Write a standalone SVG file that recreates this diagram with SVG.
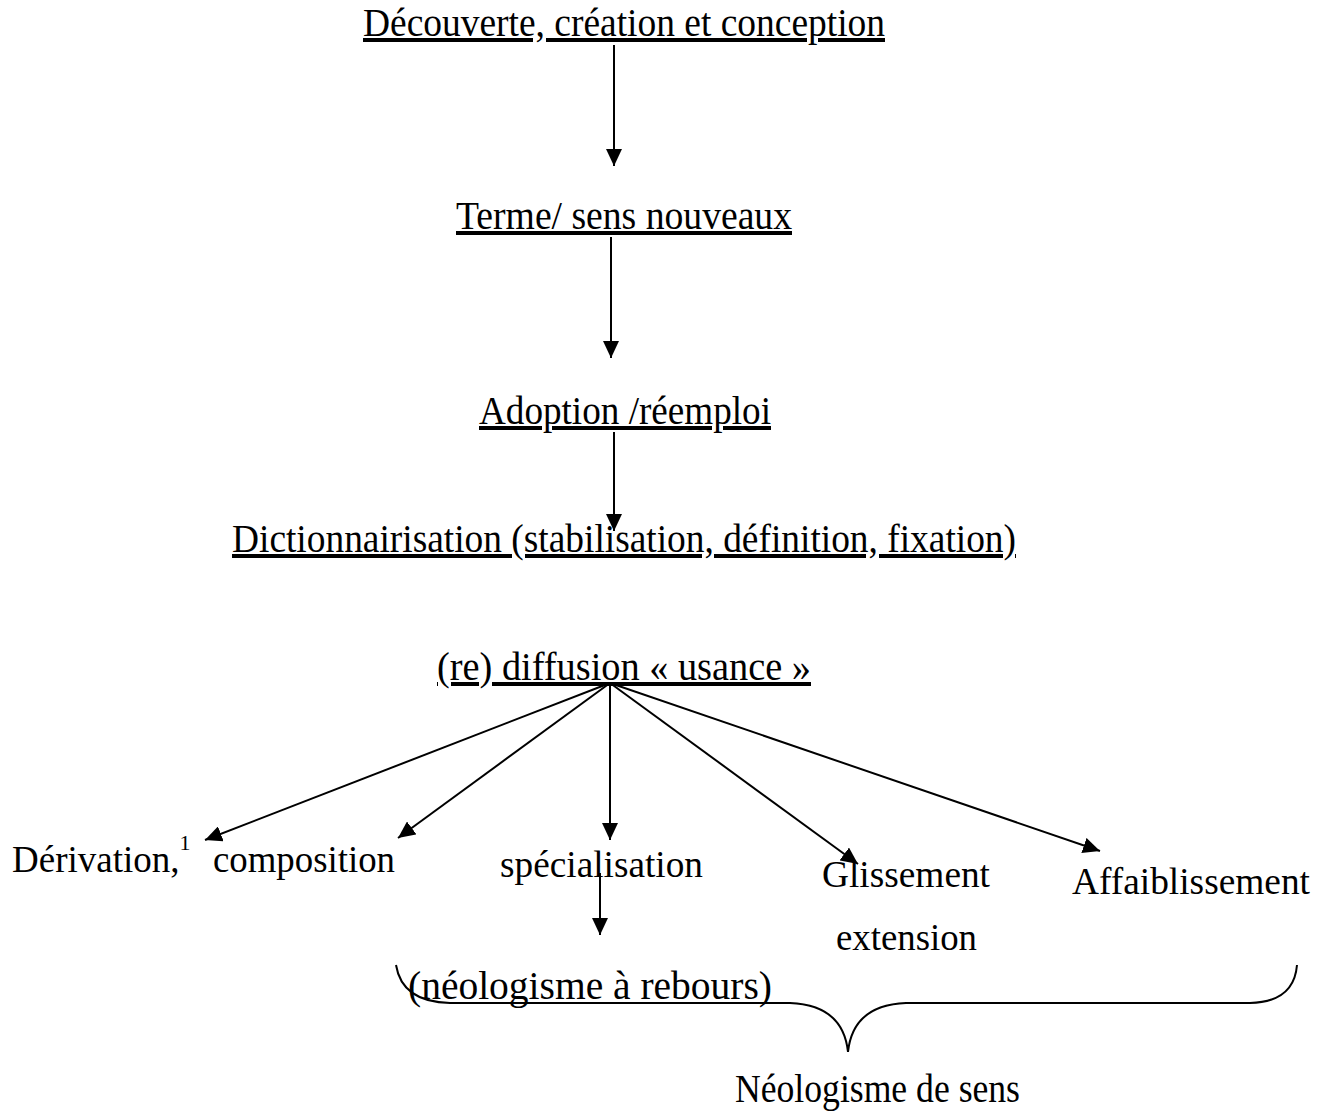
<svg xmlns="http://www.w3.org/2000/svg" width="1333" height="1118" viewBox="0 0 1333 1118">
<style>
text{font-family:"Liberation Serif","Times New Roman",serif;font-size:40px;fill:#000}
.u{text-decoration:underline}
.s{font-size:37px}
.c line,.c path{stroke:#000;stroke-width:2;fill:none}
</style>
<defs>
<marker id="ah" markerUnits="userSpaceOnUse" markerWidth="18" markerHeight="16" refX="17" refY="8" orient="auto">
<path d="M0,0 L17,8 L0,16 Z" fill="#000"/>
</marker>
</defs>
<rect width="1333" height="1118" fill="#fff"/>
<g id="n1"><text x="363" y="36" class="u" textLength="522" lengthAdjust="spacingAndGlyphs">Découverte, création et conception</text></g>
<g id="n2"><text x="456" y="229" class="u" textLength="336" lengthAdjust="spacingAndGlyphs">Terme/ sens nouveaux</text></g>
<g id="n3"><text x="479" y="424" class="u" textLength="292" lengthAdjust="spacingAndGlyphs">Adoption /réemploi</text></g>
<g id="n4"><text x="232" y="552" class="u" textLength="784" lengthAdjust="spacingAndGlyphs">Dictionnairisation (stabilisation, définition, fixation)</text></g>
<g id="n5"><text x="437" y="680" class="u" textLength="374" lengthAdjust="spacingAndGlyphs">(re) diffusion «  usance »</text></g>
<g id="n6"><text x="12" y="872" class="s">Dérivation,<tspan font-size="22" dy="-22">1</tspan></text></g>
<g id="n7"><text x="213" y="872" class="s" textLength="182" lengthAdjust="spacingAndGlyphs">composition</text></g>
<g id="n8"><text x="500" y="877" class="s" textLength="203" lengthAdjust="spacingAndGlyphs">spécialisation</text></g>
<g id="n9"><text x="822" y="887" class="s" textLength="168" lengthAdjust="spacingAndGlyphs">Glissement</text><text x="836" y="950" class="s" textLength="141" lengthAdjust="spacingAndGlyphs">extension</text></g>
<g id="n10"><text x="1072" y="894" class="s" textLength="238" lengthAdjust="spacingAndGlyphs">Affaiblissement</text></g>
<g id="n11"><text x="408" y="999" textLength="364" lengthAdjust="spacingAndGlyphs">(néologisme à rebours)</text></g>
<g id="n12"><text x="735" y="1102" textLength="285" lengthAdjust="spacingAndGlyphs">Néologisme de sens</text></g>
<g class="c" id="connectors">
<line x1="614" y1="45" x2="614" y2="166" marker-end="url(#ah)"/>
<line x1="611" y1="237" x2="611" y2="358" marker-end="url(#ah)"/>
<line x1="614" y1="432" x2="614" y2="531" marker-end="url(#ah)"/>
<line x1="610" y1="683" x2="205" y2="840" marker-end="url(#ah)"/>
<line x1="610" y1="683" x2="398" y2="838" marker-end="url(#ah)"/>
<line x1="610" y1="683" x2="610" y2="840" marker-end="url(#ah)"/>
<line x1="610" y1="683" x2="858" y2="864" marker-end="url(#ah)"/>
<line x1="610" y1="683" x2="1100" y2="851" marker-end="url(#ah)"/>
<line x1="600" y1="873" x2="600" y2="935" marker-end="url(#ah)"/>
<path d="M396,965 Q402,1002 450,1003 L790,1003 Q843,1005 848,1052 Q853,1005 906,1003 L1250,1003 Q1294,1002 1297,965"/>
</g>
</svg>
